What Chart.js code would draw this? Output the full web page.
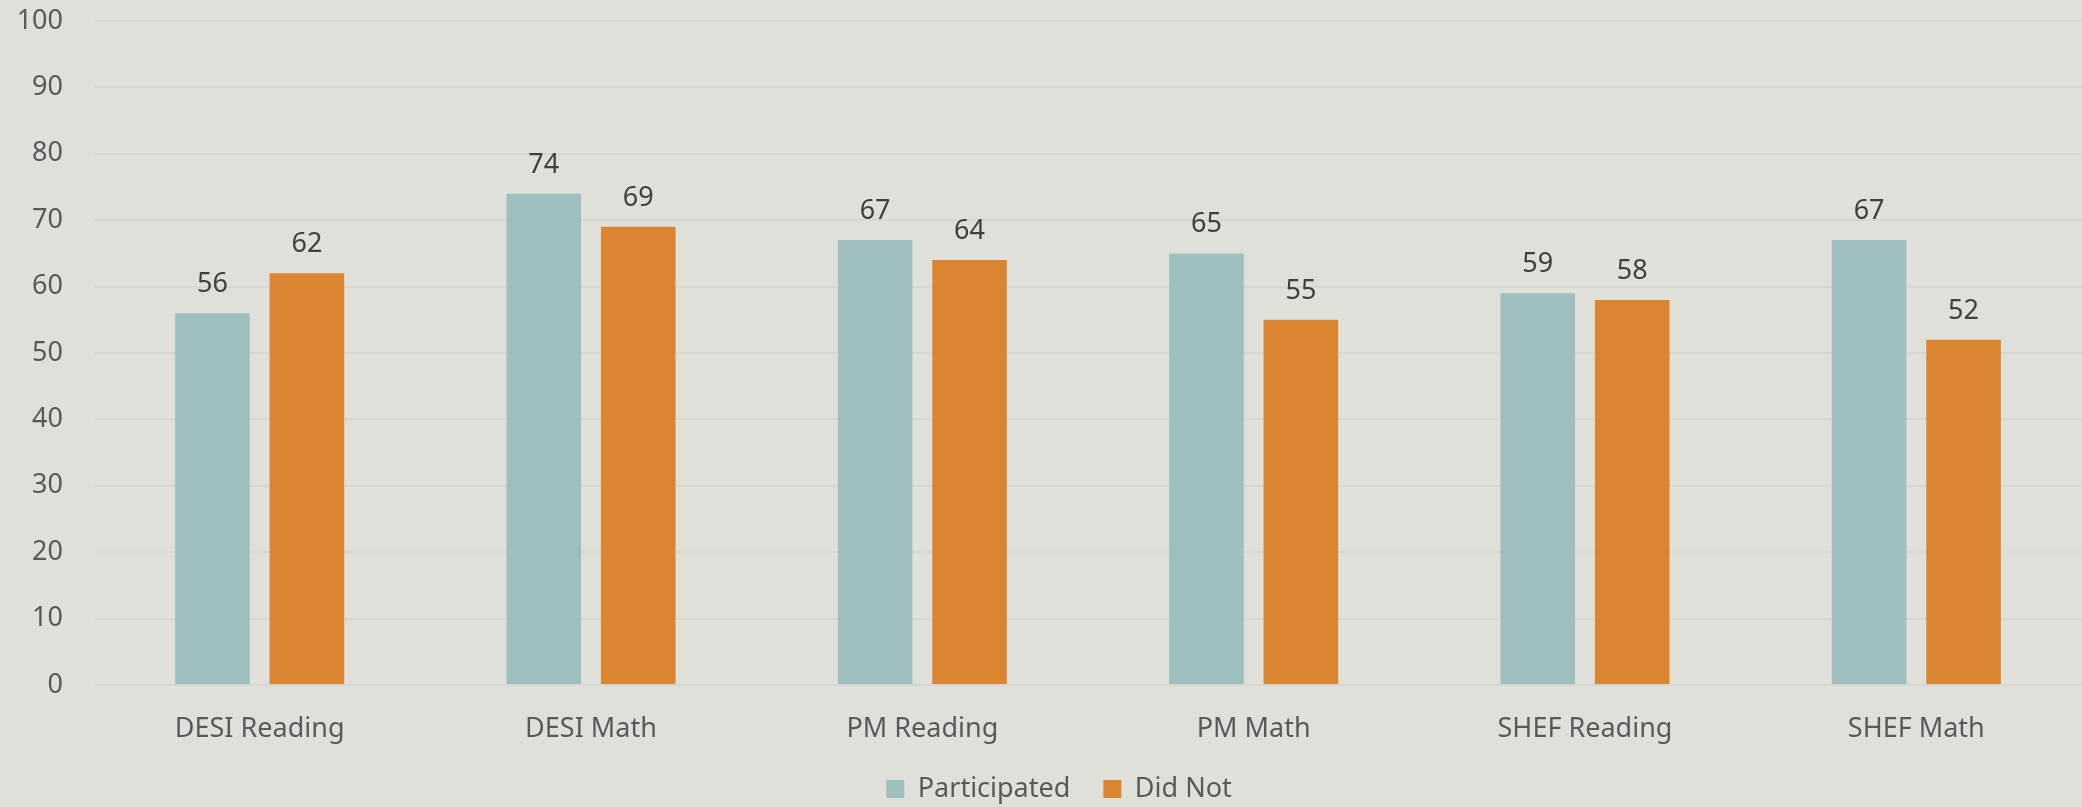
<!DOCTYPE html>
<html>
<head>
<meta charset="utf-8">
<script src="https://cdn.jsdelivr.net/npm/chart.js@4"></script>
<style>
  html, body { margin: 0; padding: 0; background: #e0e0db; }
  canvas { display: block; }
</style>
</head>
<body>
<canvas id="bar-chartcanvas" width="2082" height="807"></canvas>
<script>
// chart data
var categories = ["DESI Reading", "DESI Math", "PM Reading", "PM Math", "SHEF Reading", "SHEF Math"];
var participated = [56, 74, 67, 65, 59, 67];
var didNot = [62, 69, 64, 55, 58, 52];
var yTicks = [0, 10, 20, 30, 40, 50, 60, 70, 80, 90, 100];

var FONT = "'Noto Sans', 'Open Sans', sans-serif";

// draws the value above every bar
var valueLabels = {
	id : "valueLabels",
	afterDatasetsDraw : function(chart) {
		var ctx = chart.ctx;
		ctx.save();
		ctx.font = "27px " + FONT;
		ctx.fillStyle = "#404040";
		ctx.textAlign = "center";
		ctx.textBaseline = "alphabetic";
		chart.data.datasets.forEach(function(ds, i) {
			chart.getDatasetMeta(i).data.forEach(function(bar, j) {
				ctx.fillText(ds.data[j], bar.x, bar.y - 21);
			});
		});
		ctx.restore();
	}
};

// legend sits a bit right of centre; let x labels' descenders show
var layoutTweaks = {
	id : "layoutTweaks",
	afterLayout : function(chart) {
		if (chart.legend) chart.legend.left += 36;
		chart.scales.x.bottom += 14;
	}
};

var ctx = document.getElementById("bar-chartcanvas");

var chart = new Chart(ctx, {
	type : "bar",
	data : {
		labels : categories,
		datasets : [
			{
				label : "Participated",
				data : participated,
				backgroundColor : "#9fbfbf",
				categoryPercentage : 0.57,
				barPercentage : 0.79
			},
			{
				label : "Did Not",
				data : didNot,
				backgroundColor : "#dc8530",
				categoryPercentage : 0.57,
				barPercentage : 0.79
			}
		]
	},
	options : {
		responsive : false,
		animation : false,
		layout : {
			padding : { top : 0, right : 0, left : 0, bottom : -5.5 }
		},
		scales : {
			x : {
				grid : { display : false },
				border : { display : false },
				ticks : {
					color : "#595959",
					font : { family : FONT, size : 27 },
					padding : 20,
					maxRotation : 0
				},
				afterFit : function(scale) { scale.height = 57.5; }
			},
			y : {
				min : 0,
				max : 100,
				afterBuildTicks : function(scale) {
					scale.ticks = yTicks.map(function(v) { return { value : v }; });
				},
				grid : {
					color : "#d6d6d2",
					lineWidth : 2,
					drawTicks : true,
					tickLength : 26.2,
					tickColor : "rgba(0,0,0,0)"
				},
				border : { display : false },
				ticks : {
					color : "#595959",
					font : { family : FONT, size : 27 },
					padding : 4.8
				},
				afterFit : function(scale) { scale.width = 94; }
			}
		},
		plugins : {
			legend : {
				display : true,
				position : "bottom",
				labels : {
					boxWidth : 18,
					boxHeight : 18,
					padding : 33,
					color : "#595959",
					font : { family : FONT, size : 27 }
				}
			},
			tooltip : { enabled : false }
		}
	},
	plugins : [valueLabels, layoutTweaks]
});
</script>
</body>
</html>
